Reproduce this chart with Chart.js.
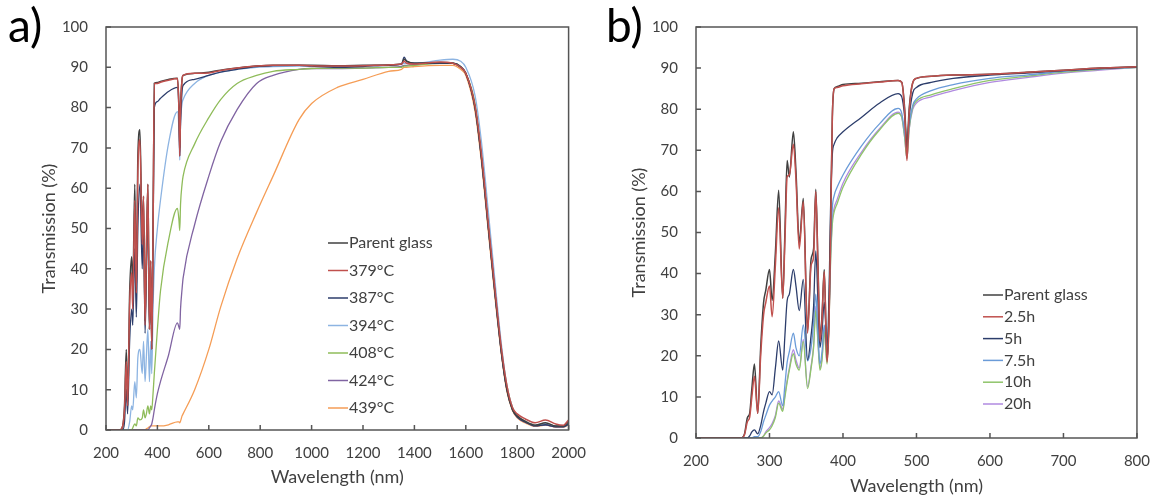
<!DOCTYPE html>
<html>
<head>
<meta charset="utf-8">
<script src="https://cdn.jsdelivr.net/npm/chart.js@4.4.1/dist/chart.umd.min.js"></script>
<style>
  body { margin: 0; background: #fff; }
  #caixaA { position: absolute; left: 0; top: 0; width: 600px; height: 500px; }
  #caixaB { position: absolute; left: 600px; top: 0; width: 564px; height: 500px; }
</style>
</head>
<body>
<div id="caixaA"><canvas id="graficoA" width="600" height="500"></canvas></div>
<div id="caixaB"><canvas id="graficoB" width="564" height="500"></canvas></div>
<script>
// a) comprimentos de onda (nm) e transmissão (%)
const wlA = [
  200, 255, 265, 272, 279, 284, 292, 300, 304, 312,
  318, 324, 332, 341, 346, 352, 357, 363, 369, 374,
  378, 383, 388, 400, 412, 443, 478, 484, 487, 490,
  496, 500, 545, 600, 646, 710, 786, 850, 951, 1000,
  1100, 1200, 1300, 1350, 1360, 1370, 1400, 1500, 1550, 1580,
  1600, 1636, 1660, 1688, 1715, 1739, 1760, 1782, 1800, 1830,
  1870, 1910, 1950, 1980, 2000
];
const parentA = [
  0, 0, 1, 6, 20, 6, 34, 43, 34, 61,
  34, 68, 74.5, 48, 58, 27, 44, 61, 25, 42,
  20, 50, 86, 86.2, 86.5, 87, 87.3, 80, 70, 80,
  87, 88, 88.5, 88.8, 89.3, 89.8, 90.3, 90.5, 90.5, 90.5,
  90.4, 90.5, 90.6, 90.8, 92, 91.5, 91, 91.2, 91, 90,
  88.5, 80, 68, 50, 33, 19, 10, 5, 3.5, 2.2,
  1.2, 1.8, 1, 1, 2
];
const t379 = [
  0, 0, 1, 5, 17, 6, 31, 39, 30, 57,
  34, 64, 72, 46, 58, 26, 43, 61, 25, 42,
  20, 48, 86, 86, 86.3, 86.8, 87.2, 79, 68, 79,
  87, 88, 88.5, 88.6, 89.2, 89.8, 90.3, 90.5, 90.5, 90.4,
  90.3, 90.4, 90.6, 90.8, 91.5, 91, 90.8, 91.3, 91, 90,
  88.5, 80.5, 69, 51, 34, 20, 11, 5.5, 4, 2.8,
  1.8, 2.5, 1.5, 1.2, 2.5
];
const t387 = [
  0, 0, 0, 2, 10, 4, 22, 30, 26, 45,
  28, 50, 61, 40, 52, 24, 38, 55, 25, 38,
  22, 45, 80, 81.5, 82.3, 84, 85, 78, 68, 76,
  84, 85.5, 87, 88, 88.8, 89.5, 90.2, 90.4, 90.5, 90.3,
  90, 90.2, 90.5, 90.8, 92.5, 91.5, 91, 91, 91, 90.2,
  88.5, 80, 68, 50, 33, 19, 10, 5, 3.2, 2,
  1, 1.3, 0.8, 0.8, 1.5
];
const t394 = [
  0, 0, 0, 0, 0, 0, 2, 6, 5, 12,
  8, 18, 20, 14, 22, 12, 18, 25, 12, 22,
  14, 30, 40, 50, 57, 71, 79, 74, 67, 76,
  81, 82, 86, 88, 88.8, 89.5, 90, 90.2, 90.3, 90.3,
  90.2, 90.4, 90.6, 90.8, 91, 91, 91, 91.8, 92, 91.5,
  90, 83, 72, 54, 36, 21, 11, 5.5, 3.5, 2.2,
  1.2, 1.6, 1, 1, 2
];
const t408 = [
  0, 0, 0, 0, 0, 0, 0, 0, 0.5, 1.5,
  1, 3, 2.5, 3, 5, 3, 4, 6, 4, 6,
  5, 9, 14, 25, 34.5, 47, 55, 52, 49.5, 56,
  61, 63, 71, 77.5, 82, 86, 88, 89, 89.5, 89.7,
  89.8, 89.8, 90, 90, 90.3, 90.3, 90.5, 91, 91, 90.2,
  88.5, 81, 69, 51, 34, 20, 11, 5.5, 3.5, 2.2,
  1.2, 1.6, 1, 1, 2
];
const t424 = [
  0, 0, 0, 0, 0, 0, 0, 0, 0, 0,
  0, 0, 0, 0, 0, 0, 0, 0, 0.5, 1,
  1.5, 3, 5, 9, 12, 18.5, 26.6, 25.5, 25, 30,
  35, 37.7, 51, 63, 71.5, 79.5, 86, 88, 89.5, 89.7,
  89.7, 89.8, 90, 90.2, 90.5, 90.5, 90.7, 91, 91, 90,
  88.5, 80, 68, 50, 33, 19, 10, 5, 3.2, 2,
  1, 1.3, 0.8, 0.8, 1.5
];
const t439 = [
  0, 0, 0, 0, 0, 0, 0, 0, 0, 0,
  0, 0, 0, 0, 0, 0, 0.3, 0.5, 0.8, 1,
  1, 1, 1, 1, 1, 1.3, 2, 2, 1.8, 2.2,
  3.5, 4, 10, 20, 30.5, 42.5, 54, 63, 77, 81,
  85, 87, 89, 89.5, 90, 90, 90.2, 90.5, 90.5, 89.5,
  88, 79, 67, 49, 32, 18.5, 9.5, 4.8, 3, 1.8,
  0.9, 1.2, 0.7, 0.7, 1.3
];

// b) comprimentos de onda (nm) e transmissão (%)
const wlB = [
  200, 262, 266, 270, 273, 276, 279.5, 284, 288, 292,
  295, 300, 303.6, 308, 312.5, 318, 321, 324, 327, 332.5,
  336, 340.5, 346, 351.8, 356.6, 360, 363, 366, 368.7, 371.5,
  374.5, 378.3, 381, 383, 385.5, 388, 392, 400, 425, 450,
  475, 480, 484, 487, 490, 495, 500, 520, 550, 600,
  650, 700, 750, 800
];
const parentB = [
  0, 0, 1, 5, 6, 12, 18, 6, 22, 33,
  36, 41, 33.5, 45, 60.3, 34, 50, 67.5, 63.5, 74.5,
  65, 47.5, 58.3, 26, 43.5, 46, 60.5, 42, 24.5, 30,
  41, 19, 30, 50, 78, 85, 85.5, 86, 86.3, 86.7,
  87, 86.5, 80, 70.5, 80, 86.5, 87.5, 88, 88.3, 88.5,
  89, 89.5, 90, 90.3
];
const h2_5 = [
  0, 0, 0.8, 4, 5, 10, 15, 6, 20, 30,
  33, 37, 29.5, 42, 56, 34, 48, 63.5, 64, 71.5,
  63, 46, 57.5, 25.5, 42, 44, 60, 41, 23.5, 29,
  40.5, 18.5, 28, 48, 78, 85, 85.3, 85.7, 86.2, 86.6,
  87, 86.5, 79, 67.5, 79, 86.5, 87.5, 88, 88.3, 88.5,
  89, 89.5, 90, 90.3
];
const h5 = [
  0, 0, 0, 0, 0.5, 1.5, 2, 1, 3, 6.5,
  8.5, 11.3, 10.5, 17, 23.6, 16.5, 25, 33.4, 35, 41,
  37, 31, 38.6, 19, 25, 32, 45.5, 33, 22, 26,
  33, 22.5, 35, 55, 69, 71.5, 73, 74.5, 78, 81.5,
  83.8, 83, 78, 71, 78, 84, 85.3, 86.5, 87.5, 88.3,
  88.8, 89.4, 89.9, 90.3
];
const h7_5 = [
  0, 0, 0, 0, 0, 0, 0.3, 0.3, 1.5, 4,
  5.5, 8, 9, 10, 11.3, 7.8, 13, 18.4, 21, 25.5,
  22, 20, 27.5, 18.8, 22, 28, 35, 25, 18, 21,
  27.5, 21.5, 30, 45, 56, 59, 61, 64, 71, 76.5,
  80.2, 79, 74, 70, 76, 81, 82.5, 84.5, 86, 87.5,
  88.3, 89.2, 89.8, 90.2
];
const h10 = [
  0, 0, 0, 0, 0, 0, 0, 0, 0, 0.5,
  1.2, 2, 3, 5, 8.5, 6.5, 10, 13.5, 16.5, 20.5,
  18, 16.5, 23.5, 12, 17, 22, 31, 23, 16.5, 19,
  26, 18, 28, 42, 52, 55, 57, 61, 69, 75,
  79, 78, 73, 68, 75, 80.5, 82, 83.5, 85, 87,
  88, 89, 89.7, 90.2
];
const h20 = [
  0, 0, 0, 0, 0, 0, 0, 0, 0, 0.5,
  1.5, 2.5, 3.5, 5.5, 9, 7, 10.5, 14, 17, 21.5,
  19, 17, 24, 12.5, 17.5, 22.5, 32, 23.5, 17, 19.5,
  26.5, 18.5, 28.5, 43, 53, 56, 58, 62, 69.5, 75.3,
  79.3, 78, 73, 68, 75, 80, 81.5, 83, 84.5, 86.5,
  87.7, 88.8, 89.5, 90.2
];

const nomesA = ['Parent glass', '379°C', '387°C', '394°C', '408°C', '424°C', '439°C'];
const nomesB = ['Parent glass', '2.5h', '5h', '7.5h', '10h', '20h'];

Chart.defaults.font.family = 'Lato, "Open Sans", sans-serif';
Chart.defaults.color = '#404040';

function pontos(xs, ys) {
  return xs.map((x, i) => ({ x: x, y: ys[i] }));
}

// moldura, marcas para dentro, legenda e letra do painel
const deco = {
  id: 'deco',
  afterDatasetsDraw(chart, args, o) {
    const ctx = chart.ctx;
    const a = chart.chartArea;
    const sx = chart.scales.x, sy = chart.scales.y;
    ctx.save();
    ctx.strokeStyle = '#555';
    ctx.lineWidth = 1.5;
    ctx.strokeRect(a.left, a.top, a.right - a.left, a.bottom - a.top);
    ctx.beginPath();
    sx.ticks.forEach(t => {
      const px = sx.getPixelForValue(t.value);
      ctx.moveTo(px, a.bottom); ctx.lineTo(px, a.bottom - 5);
    });
    sy.ticks.forEach(t => {
      const py = sy.getPixelForValue(t.value);
      ctx.moveTo(a.left, py); ctx.lineTo(a.left + 5, py);
    });
    ctx.stroke();

    ctx.font = '16px Lato, "Open Sans", sans-serif';
    ctx.textBaseline = 'middle';
    chart.data.datasets.forEach((ds, i) => {
      const y = o.legY + i * o.legGap;
      ctx.strokeStyle = ds.borderColor;
      ctx.lineWidth = 1.5;
      ctx.beginPath();
      ctx.moveTo(o.legX, y); ctx.lineTo(o.legX + 20, y);
      ctx.stroke();
      ctx.fillStyle = '#404040';
      ctx.fillText(ds.label, o.legX + 21, y);
    });

    ctx.font = '46px Lato, "Open Sans", sans-serif';
    ctx.textBaseline = 'alphabetic';
    ctx.fillStyle = '#000';
    ctx.fillText(o.letra, o.letraX, o.letraY);
    ctx.restore();
  }
};

function grafico(id, wl, series, nomes, cores, c) {
  const ctx = document.getElementById(id).getContext('2d');
  return new Chart(ctx, {
    type: 'line',
    data: {
      datasets: series.map((s, i) => ({
        label: nomes[i],
        data: pontos(wl, s),
        borderColor: cores[i],
        borderWidth: i < 2 ? 1.5 : 1.3,
        order: c.ordem[i],
        pointRadius: 0,
        fill: false,
        cubicInterpolationMode: 'monotone'
      }))
    },
    plugins: [deco],
    options: {
      responsive: false,
      animation: false,
      layout: { padding: c.pad },
      plugins: {
        legend: { display: false },
        tooltip: { enabled: false },
        deco: c.deco
      },
      scales: {
        x: {
          type: 'linear',
          min: c.xmin, max: c.xmax,
          ticks: {
            stepSize: c.xstep, padding: 14, font: { size: 15 }, maxRotation: 0, autoSkip: false, color: '#404040',
            callback: v => String(v)
          },
          grid: { display: false, drawTicks: false },
          border: { display: false },
          title: { display: true, text: 'Wavelength (nm)', font: { size: 18 }, padding: 0, color: '#404040' },
          afterFit(s) { s.height = c.xAlt; }
        },
        y: {
          min: 0, max: 100,
          ticks: { stepSize: 10, padding: 18, font: { size: 15 }, color: '#404040' },
          grid: { display: false, drawTicks: false },
          border: { display: false },
          title: { display: true, text: 'Transmission (%)', font: { size: 18 }, padding: 0, color: '#404040' },
          afterFit(s) { s.width = c.yLarg; }
        }
      }
    }
  });
}

grafico('graficoA', wlA,
  [parentA, t379, t387, t394, t408, t424, t439], nomesA,
  ['#404040', '#c0504d', '#2c3d6b', '#8db4e2', '#8fbc5a', '#8064a2', '#f59d56'],
  {
    pad: { left: 38, top: 15, right: 21, bottom: 12 },
    yLarg: 68, xAlt: 58, xmin: 200, xmax: 2000, xstep: 200,
    ordem: [1, 0, 2, 3, 4, 5, 6],
    deco: { legX: 328, legY: 243, legGap: 27.5, letra: 'a)', letraX: 8, letraY: 42 }
  });

grafico('graficoB', wlB,
  [parentB, h2_5, h5, h7_5, h10, h20], nomesB,
  ['#404040', '#c0504d', '#2c3d6b', '#6a9bd8', '#8fc46a', '#b08ae0'],
  {
    pad: { left: 28, top: 17, right: 21, bottom: 3 },
    yLarg: 68, xAlt: 59, xmin: 200, xmax: 800, xstep: 100,
    ordem: [1, 0, 2, 3, 4, 5],
    deco: { legX: 383, legY: 295, legGap: 21.8, letra: 'b)', letraX: 6, letraY: 42 }
  });
</script>
</body>
</html>
